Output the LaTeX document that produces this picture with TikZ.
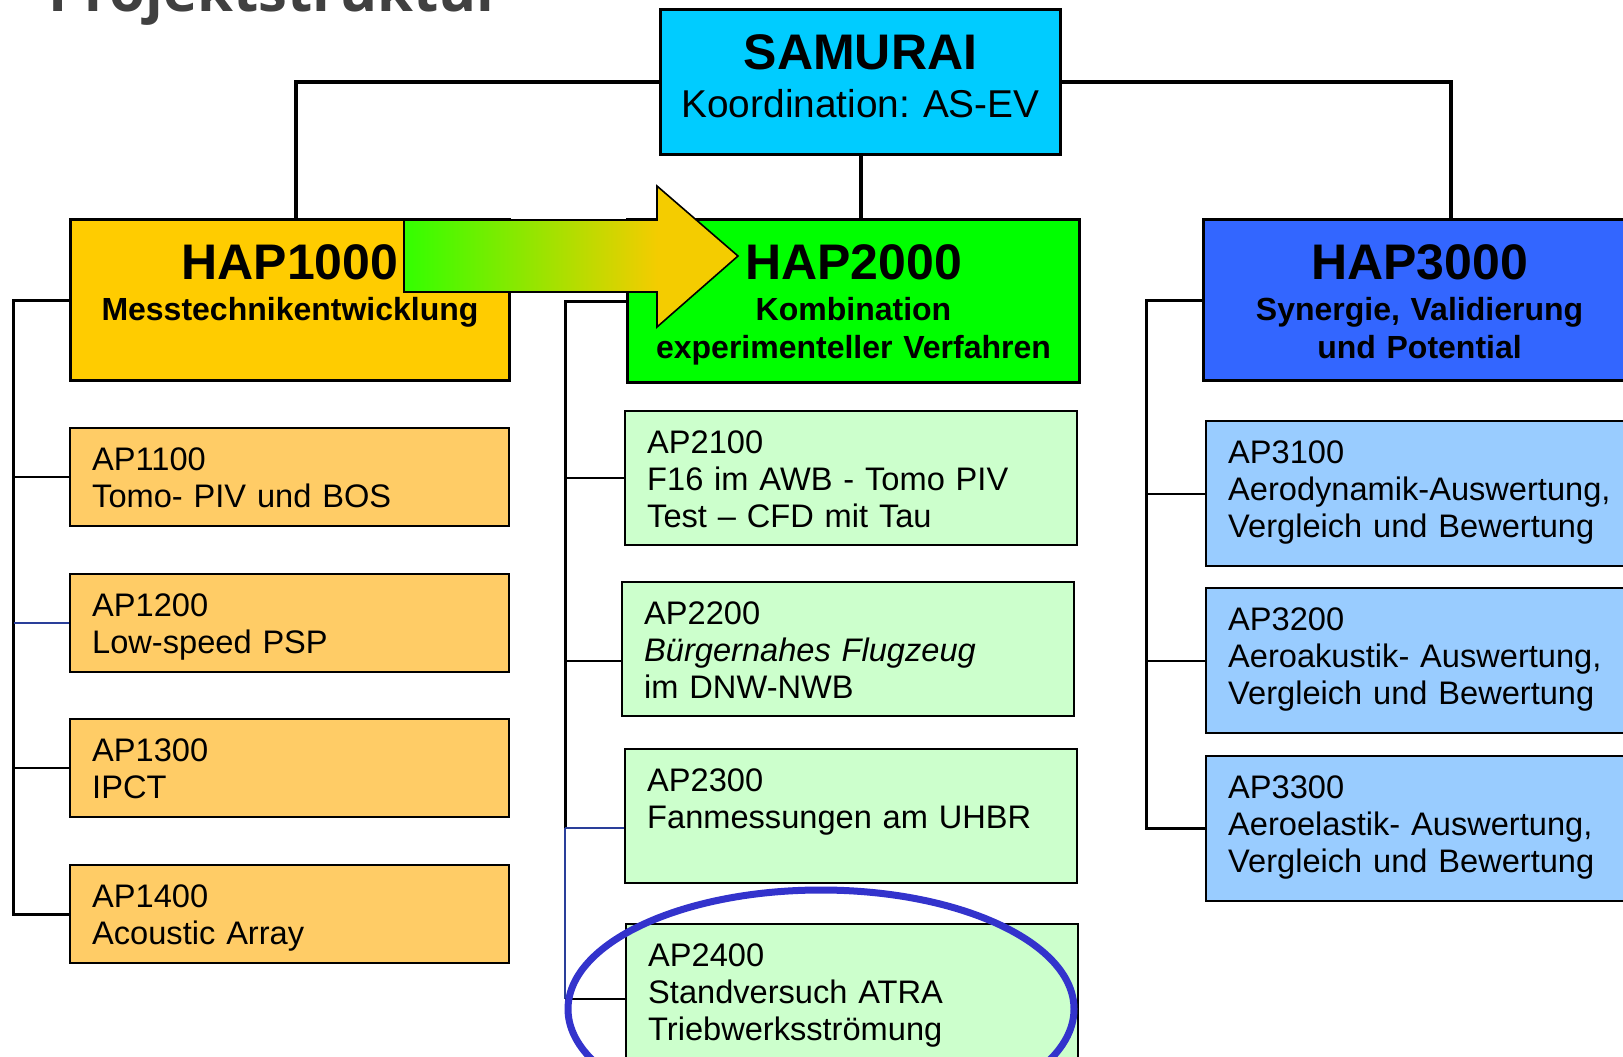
\documentclass[tikz,border=0pt]{standalone}
\usepackage{fontspec}
\setmainfont{Liberation Sans}
\newfontfamily\headfont{Open Sans}
\usetikzlibrary{positioning}
\frenchspacing
\definecolor{ink}{HTML}{000000}
\definecolor{headgray}{HTML}{404040}
\definecolor{coordfill}{HTML}{00CCFF}
\definecolor{hapa}{HTML}{FFCC00}
\definecolor{hapb}{HTML}{00FF00}
\definecolor{hapc}{HTML}{3366FF}
\definecolor{apa}{HTML}{FFCC66}
\definecolor{apb}{HTML}{CCFFCC}
\definecolor{apc}{HTML}{99CCFF}
\definecolor{flowgreen}{HTML}{33FF00}
\definecolor{flowgold}{HTML}{F4CC00}
\definecolor{ringblue}{HTML}{3333CC}
\definecolor{wireblue}{HTML}{2A3F9A}
\pgfdeclarehorizontalshading{flowshade}{100bp}{color(0bp)=(flowgreen); color(25bp)=(flowgreen);
  color(63bp)=(flowgold); color(100bp)=(flowgold)}
\tikzset{
  every node/.style={font=\fontsize{16.3}{18.5}\selectfont, text=ink},
  box/.style={draw=ink, line width=1.5pt, rectangle, anchor=north west, inner ysep=0pt},
  topbox/.style={box, fill=coordfill, inner xsep=0pt, align=center, text width=200pt,
                 text height=30pt, text depth=42.5pt, font=\fontsize{19.4}{24}\selectfont},
  hapbox/.style={box, inner xsep=0pt, align=center, text height=30pt,
                 font=\bfseries\fontsize{16}{19}\selectfont},
  apbox/.style={box, line width=1.2pt, inner xsep=11pt, align=left, text height=21pt},
  apone/.style={apbox, fill=apa, text width=197.5pt, text depth=28pt},
  aptwo/.style={apbox, fill=apb, text width=204pt, text depth=46pt},
  apthree/.style={apbox, fill=apc, text width=208pt, text depth=51.5pt},
  link/.style={draw=ink, line width=2pt},
  bus/.style={draw=ink, line width=1.5pt},
  twig/.style={draw=ink, line width=1pt},
  bluetwig/.style={twig, draw=wireblue},
  flow/.style={draw=ink, line width=0.8pt, shading=flowshade},
  ring/.style={draw=ringblue, line width=3.5pt},
}
\newcommand{\hapname}[1]{{\fontsize{25}{25}\selectfont #1}\\[1.5pt]}

\begin{document}
\begin{tikzpicture}[x=0.5pt, y=-0.5pt]
\useasboundingbox (0,0) rectangle (1623,1056);
\clip (0,0) rectangle (1623,1056);

\node[anchor=base west, inner sep=0pt, text=headgray,
      font=\headfont\bfseries\fontsize{29}{29}\selectfont] (title) at (48,11) {Projektstruktur};

\node[topbox] (samurai) at (659,8) {{\bfseries\fontsize{25}{25}\selectfont SAMURAI}\\Koordination: AS-EV};

\node[hapbox, fill=hapa, text width=219.5pt, text depth=50.5pt] (hap1) at (69,218)
  {\hapname{HAP1000}Messtechnikentwicklung};
\node[hapbox, fill=hapb, text width=226pt, text depth=51.5pt] (hap2) at (626,218)
  {\hapname{HAP2000}Kombination\\experimenteller Verfahren};
\node[hapbox, fill=hapc, text width=216pt, text depth=50.5pt] (hap3) at (1202,218)
  {\hapname{HAP3000}Synergie, Validierung\\und Potential};

\node[apone] (ap11) at (69,427) {AP1100\\Tomo- PIV und BOS};
\node[apone] (ap12) at (69,573) {AP1200\\Low-speed PSP};
\node[apone] (ap13) at (69,718) {AP1300\\IPCT};
\node[apone] (ap14) at (69,864) {AP1400\\Acoustic Array};

\node[aptwo] (ap21) at (624,410) {AP2100\\F16 im AWB - Tomo PIV\\Test – CFD mit Tau};
\node[aptwo] (ap22) at (621,581) {AP2200\\\textit{Bürgernahes Flugzeug}\\im DNW-NWB};
\node[aptwo] (ap23) at (624,748) {AP2300\\Fanmessungen am UHBR};
\node[aptwo, text depth=54pt] (ap24) at (625,923) {AP2400\\Standversuch ATRA\\Triebwerksströmung};

\node[apthree] (ap31) at (1205,420) {AP3100\\Aerodynamik-Auswertung,\\Vergleich und Bewertung};
\node[apthree] (ap32) at (1205,587) {AP3200\\Aeroakustik- Auswertung,\\Vergleich und Bewertung};
\node[apthree] (ap33) at (1205,755) {AP3300\\Aeroelastik- Auswertung,\\Vergleich und Bewertung};

\draw[link] (samurai.west) -| ([xshift=3pt]hap1.north);
\draw[link] (samurai.east) -| ([xshift=15.5pt]hap3.north);
\draw[link] (samurai.south) -- (samurai.south |- hap2.north);

\coordinate (rail1) at (13.5,0);
\coordinate (rail2) at (565,0);
\coordinate (rail3) at (1146,0);
\coordinate (t22) at ([yshift=-6pt]ap22.west);
\coordinate (t23) at ([yshift=-6pt]ap23.west);

\draw[bus] (hap1.west) -- (rail1 |- hap1.west) |- (ap14.west);
\draw[twig] (rail1 |- ap11.west) -- (ap11.west);
\draw[bluetwig] (rail1 |- ap12.west) -- (ap12.west);
\draw[twig] (rail1 |- ap13.west) -- (ap13.west);

\draw[bus] (hap2.west) -- (rail2 |- hap2.west) -- (rail2 |- t23);
\draw[twig] (rail2 |- ap21.west) -- (ap21.west);
\draw[twig] (rail2 |- t22) -- (t22);
\draw[bluetwig] (rail2 |- t23) -- (t23);
\draw[bluetwig] (rail2 |- t23) -- (rail2 |- ap24.west);
\draw[twig] (rail2 |- ap24.west) -- (ap24.west);

\draw[bus] (hap3.west) -- (rail3 |- hap3.west) |- (ap33.west);
\draw[twig] (rail3 |- ap31.west) -- (ap31.west);
\draw[twig] (rail3 |- ap32.west) -- (ap32.west);

\shadedraw[flow] (404,220) -- (657,220) -- (657,186) -- (738,256)
  -- (657,327) -- (657,292) -- (404,292) -- cycle;

\draw[ring] (821,1009) ellipse [x radius=126.5pt, y radius=59.5pt];
\end{tikzpicture}
\end{document}
